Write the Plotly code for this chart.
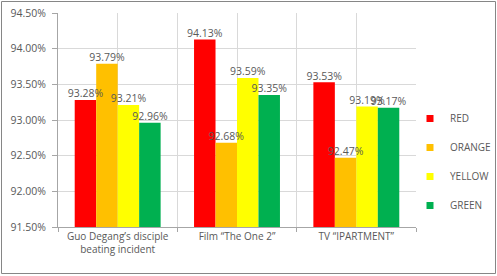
import plotly.graph_objects as go

categories = ["Guo Degang’s disciple<br>beating incident", "Film “The One 2”", "TV “IPARTMENT”"]
series_names = ["RED", "ORANGE", "YELLOW", "GREEN"]
red = [93.28, 94.13, 93.53]
orange = [93.79, 92.68, 92.47]
yellow = [93.21, 93.59, 93.19]
green = [92.96, 93.35, 93.17]
y_ticks = [91.5, 92.0, 92.5, 93.0, 93.5, 94.0, 94.5]

colors = ["#FF0000", "#FFC000", "#FFFF00", "#00B050"]
values = [red, orange, yellow, green]
xpos = list(range(len(categories)))

W, H = 497, 276
L, R, T, B = 58, 81, 13, 49
pw, ph = W - L - R, H - T - B
bargap = 0.28
nser = len(series_names)
bw = (1 - bargap) / nser

font = "Open Sans, sans-serif"
fig = go.Figure()
for name, vals, col in zip(series_names, values, colors):
    fig.add_trace(go.Bar(
        x=xpos, y=vals, name=name, marker=dict(color=col, line=dict(width=0)),
        showlegend=False, hoverinfo="skip",
    ))
# data labels drawn above all bars
for j, (name, vals) in enumerate(zip(series_names, values)):
    fig.add_trace(go.Scatter(
        x=[i + (j - (nser - 1) / 2) * bw for i in xpos], y=vals, mode="text",
        text=[f"{v:.2f}%" for v in vals], textposition="top center",
        textfont=dict(family=font, size=10.5, color="#595959"),
        showlegend=False, hoverinfo="skip", cliponaxis=False,
    ))
# legend entries
for name, col in zip(series_names, colors):
    fig.add_trace(go.Scatter(
        x=[None], y=[None], mode="markers", name=name,
        marker=dict(symbol="square", size=7, color=col), legendgroup=name,
    ))

fig.update_layout(
    width=W, height=H,
    margin=dict(l=L, r=R, t=T, b=B, pad=0, autoexpand=False),
    paper_bgcolor="white", plot_bgcolor="white",
    barmode="group", bargap=bargap, bargroupgap=0,
    showlegend=True,
    legend=dict(x=(410 - L) / pw, y=1 - (104 - T) / ph, xanchor="left", yanchor="top",
                font=dict(family=font, size=10, color="#595959"),
                tracegroupgap=10, itemwidth=30, bgcolor="rgba(0,0,0,0)"),
    font=dict(family=font, size=10.5, color="#595959"),
    xaxis=dict(range=[-0.5, 2.5], tickvals=xpos, ticktext=categories,
               showgrid=True, gridcolor="#D9D9D9", gridwidth=1,
               ticks="", showline=True, linecolor="#A6A6A6", linewidth=1,
               tickfont=dict(family=font, size=10, color="#595959"),
               minor=dict(tickvals=[-0.5, 0.5, 1.5, 2.5], ticks="outside", ticklen=4,
                          tickcolor="#A6A6A6", showgrid=True, gridcolor="#D9D9D9"),
               zeroline=False, fixedrange=True),
    yaxis=dict(range=[91.5, 94.5], tickvals=y_ticks,
               ticktext=[f"{v:.2f}%" for v in y_ticks],
               showgrid=True, gridcolor="#D9D9D9", gridwidth=1,
               ticks="outside", ticklen=5, tickcolor="#A6A6A6", ticklabelstandoff=4,
               showline=True, linecolor="#A6A6A6", linewidth=1,
               tickfont=dict(family=font, size=10.5, color="#595959"),
               zeroline=False, fixedrange=True),
    shapes=[dict(type="rect", xref="paper", yref="paper",
                 x0=(1.5 - L) / pw, x1=(495.5 - L) / pw,
                 y0=-(273.5 - T - ph) / ph, y1=1 + (T - 1.5) / ph,
                 line=dict(color="#868686", width=1), fillcolor="rgba(0,0,0,0)", layer="below")],
)

fig.write_html("out.html", config={"displayModeBar": False},
               post_script="document.body.style.margin='0';document.body.style.overflow='hidden';")
